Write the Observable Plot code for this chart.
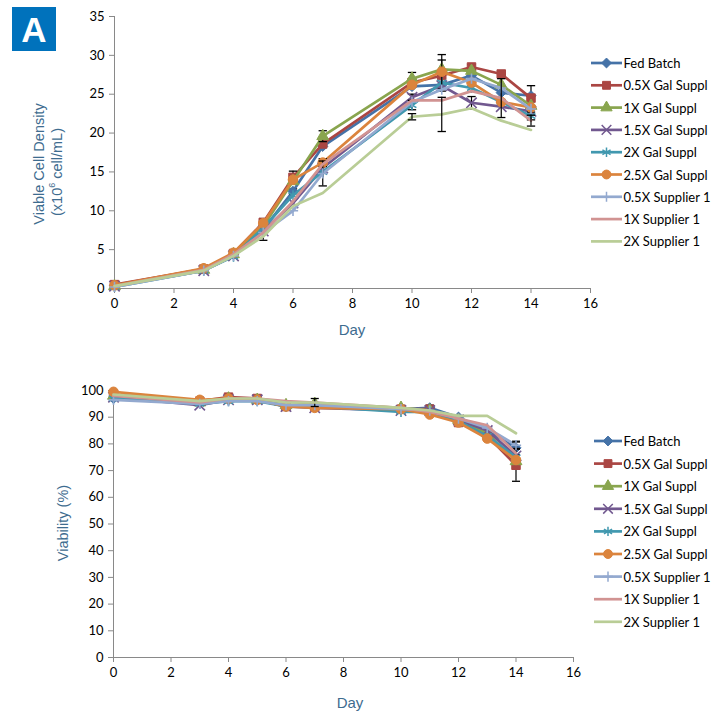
<!DOCTYPE html>
<html><head><meta charset="utf-8">
<script src="https://cdn.jsdelivr.net/npm/d3@7"></script>
<script src="https://cdn.jsdelivr.net/npm/@observablehq/plot@0.6"></script>
<style>
html,body{margin:0;padding:0;background:#fff;}
#wrap{position:relative;width:724px;height:711px;overflow:hidden;background:#fff;}
#wrap svg{position:absolute;left:0;}
</style></head><body><div id="wrap"></div>
<script>
// ---------- data ----------
const days = [0, 3, 4, 5, 6, 7, 10, 11, 12, 13, 14];
const seriesNames = ["Fed Batch", "0.5X Gal Suppl", "1X Gal Suppl", "1.5X Gal Suppl", "2X Gal Suppl",
  "2.5X Gal Suppl", "0.5X Supplier 1", "1X Supplier 1", "2X Supplier 1"];
const seriesColors = ["#4572A7", "#AA4643", "#89A54E", "#71588F", "#4198AF", "#DB843D", "#93A9CF", "#D19392", "#B9CD96"];
const seriesMarkers = ["diamond2", "square", "triangle", "times", "asterisk", "circle", "plus", null, null];

// Viable cell density (x10^6 cell/mL), one row per series, one value per day
const vcdValues = [
  [0.4, 2.5, 4.4, 7.6, 12.5, 18.3, 26.0, 26.2, 27.4, 25.2, 24.8],
  [0.5, 2.5, 4.5, 8.5, 14.3, 18.6, 26.5, 27.4, 28.5, 27.6, 24.5],
  [0.3, 2.4, 4.4, 8.0, 13.8, 19.6, 27.0, 28.2, 28.0, 26.2, 23.5],
  [0.3, 2.3, 4.2, 7.4, 11.0, 15.5, 24.6, 26.1, 23.9, 23.4, 22.8],
  [0.2, 2.3, 4.1, 7.8, 12.0, 15.0, 23.6, 26.5, 25.8, 24.0, 22.2],
  [0.4, 2.6, 4.6, 8.4, 14.0, 16.2, 26.2, 27.9, 26.5, 24.0, 23.3],
  [0.2, 2.3, 4.2, 7.2, 10.0, 14.8, 24.0, 25.6, 27.0, 25.8, 23.1],
  [0.3, 2.4, 4.4, 7.2, 11.2, 16.0, 24.2, 24.2, 25.4, 24.5, 21.6],
  [0.3, 2.3, 4.2, 6.7, 10.6, 12.3, 22.1, 22.4, 23.2, 21.6, 20.4]
];
// error bars: [series, day, ±error]
const vcdErrors = [
  ["Fed Batch", 5, 1.4], ["Fed Batch", 6, 0.3], ["Fed Batch", 14, 1.3],
  ["0.5X Gal Suppl", 6, 0.8], ["0.5X Gal Suppl", 12, 0.3], ["0.5X Gal Suppl", 11, 2.0],
  ["1X Gal Suppl", 7, 0.7], ["1X Gal Suppl", 10, 0.8],
  ["1.5X Gal Suppl", 10, 0.4], ["1.5X Gal Suppl", 12, 0.8],
  ["2X Gal Suppl", 10, 0.6], ["2X Gal Suppl", 14, 0.5],
  ["2.5X Gal Suppl", 7, 0.5], ["2.5X Gal Suppl", 11, 2.2],
  ["0.5X Supplier 1", 7, 1.6],
  ["1X Supplier 1", 13, 2.5], ["1X Supplier 1", 14, 0.7],
  ["2X Supplier 1", 10, 0.4], ["2X Supplier 1", 11, 2.2]
];

// Viability (%)
const viabilityValues = [
  [97.0, 95.5, 96.5, 96.5, 94.0, 94.0, 93.0, 93.5, 90.0, 85.0, 78.5],
  [98.5, 96.0, 97.5, 97.0, 94.0, 94.0, 93.0, 93.0, 88.0, 83.0, 72.0],
  [98.0, 95.5, 97.0, 96.5, 94.5, 95.0, 93.5, 92.5, 89.0, 84.0, 73.5],
  [97.5, 94.5, 96.5, 96.5, 94.0, 93.5, 92.5, 92.5, 89.0, 85.0, 75.5],
  [97.0, 95.0, 96.0, 96.0, 94.0, 94.0, 92.0, 92.0, 88.5, 83.0, 75.0],
  [99.5, 96.5, 97.0, 96.5, 94.0, 93.5, 93.0, 91.0, 88.0, 82.0, 74.0],
  [96.5, 95.0, 96.0, 96.0, 94.5, 94.5, 93.0, 92.5, 89.5, 86.0, 79.5],
  [98.0, 95.5, 97.0, 97.0, 96.0, 95.5, 93.5, 92.0, 89.5, 87.0, 76.5],
  [98.5, 96.0, 97.0, 97.0, 95.5, 95.5, 93.5, 92.5, 90.5, 90.5, 84.0]
];
const viabilityErrors = [
  ["Fed Batch", 14, 2.5], ["0.5X Gal Suppl", 14, 6.0], ["0.5X Supplier 1", 14, 1.2],
  ["1X Supplier 1", 7, 1.5], ["Fed Batch", 11, 1.0]
];

const xTicks = [0, 2, 4, 6, 8, 10, 12, 14, 16];
const vcdTicks = [0, 5, 10, 15, 20, 25, 30, 35];
const viabilityTicks = [0, 10, 20, 30, 40, 50, 60, 70, 80, 90, 100];

// ---------- helpers ----------
const axisGrey = "#898989";
const titleBlue = "#3E6C8F";
const tickFont = "Lato, 'Open Sans', sans-serif";

function toRows(values) {
  const out = [];
  seriesNames.forEach((s, i) => days.forEach((d, j) => out.push({series: s, day: d, v: values[i][j]})));
  return out;
}
function toErr(values, errs) {
  return errs.map(([s, d, e]) => {
    const v = values[seriesNames.indexOf(s)][days.indexOf(d)];
    return {series: s, day: d, lo: v - e, hi: v + e};
  });
}

function makeChart({values, errs, yDomain, yTicks, top, height, mt, mb, ml, mr}) {
  const rows = toRows(values);
  const err = toErr(values, errs);
  const marks = [
    Plot.ruleY([yDomain[0]], {stroke: axisGrey, strokeWidth: 1}),
    Plot.ruleX([0], {stroke: axisGrey, strokeWidth: 1}),
    Plot.axisX({ticks: xTicks, tickSize: 5, tickPadding: 5, stroke: axisGrey, fill: "#000", label: null, fontSize: 13, tickFormat: d => String(d)}),
    Plot.axisY({ticks: yTicks, tickSize: 5, tickPadding: 5, stroke: axisGrey, fill: "#000", label: null, fontSize: 13, tickFormat: d => String(d)})
  ];
  seriesNames.forEach((s, i) => {
    const color = seriesColors[i];
    const data = rows.filter(d => d.series === s);
    const e = err.filter(d => d.series === s);
    const caps = e.flatMap(d => [{day: d.day, y: d.lo}, {day: d.day, y: d.hi}]);
    marks.push(Plot.line(data, {x: "day", y: "v", stroke: color, strokeWidth: 2.7, strokeLinejoin: "round"}));
    marks.push(Plot.ruleX(e, {x: "day", y1: "lo", y2: "hi", stroke: "#000", strokeWidth: 1.2}));
    marks.push(Plot.link(caps, {x1: d => d.day - 0.14, x2: d => d.day + 0.14, y1: "y", y2: "y", stroke: "#000", strokeWidth: 1.3}));
    const m = seriesMarkers[i];
    if (m) {
      const filled = ["diamond2", "square", "triangle", "circle"].includes(m);
      const r = m === "plus" ? 3.4 : m === "triangle" ? 4.4 : m === "diamond2" ? 4.6 : 4.8;
      marks.push(Plot.dot(data, filled
        ? {x: "day", y: "v", symbol: m, r, fill: color, stroke: color, strokeWidth: 1}
        : {x: "day", y: "v", symbol: m, r, fill: "none", stroke: color, strokeWidth: 1.6}));
    }
  });
  const svg = Plot.plot({
    width: 724, height,
    marginTop: mt, marginBottom: mb, marginLeft: ml, marginRight: mr,
    x: {domain: [0, 16]},
    y: {domain: yDomain},
    style: {fontFamily: tickFont, fontSize: "13px", color: "#000", background: "transparent"},
    marks
  });
  svg.style.top = top + "px";
  return svg;
}

const wrap = document.getElementById("wrap");
wrap.appendChild(makeChart({values: vcdValues, errs: vcdErrors, yDomain: [0, 35], yTicks: vcdTicks,
  top: 0, height: 338, mt: 16, mb: 50, ml: 114, mr: 134}));
wrap.appendChild(makeChart({values: viabilityValues, errs: viabilityErrors, yDomain: [0, 100], yTicks: viabilityTicks,
  top: 374, height: 337, mt: 16, mb: 54, ml: 113, mr: 151}));

// ---------- overlay: badge, axis titles, legends ----------
const ov = d3.select(wrap).append("svg").attr("width", 724).attr("height", 711).style("top", "0px");
ov.append("rect").attr("x", 12).attr("y", 7).attr("width", 44).attr("height", 44).attr("fill", "#0072BC");
ov.append("text").attr("x", 34).attr("y", 42).attr("text-anchor", "middle")
  .attr("font-family", "'Liberation Sans', Arial, sans-serif").attr("font-weight", "bold").attr("font-size", 35)
  .attr("fill", "#fff").text("A");

const titleFont = "'Liberation Sans', Arial, sans-serif";
function vTitle(x, y, txt) {
  return ov.append("text").attr("transform", `translate(${x},${y}) rotate(-90)`).attr("text-anchor", "middle")
    .attr("dominant-baseline", "central").attr("font-family", titleFont).attr("font-size", 14.5).attr("fill", titleBlue).text(txt);
}
vTitle(38.5, 164, "Viable Cell Density");
const t2 = ov.append("text").attr("transform", `translate(56.5,172) rotate(-90)`).attr("text-anchor", "middle")
  .attr("dominant-baseline", "central").attr("font-family", titleFont).attr("font-size", 14.5).attr("fill", titleBlue);
t2.append("tspan").text("(x10");
t2.append("tspan").attr("font-size", 9).attr("dy", -5).text("6");
t2.append("tspan").attr("dy", 5).text(" cell/mL)");
vTitle(62.5, 523, "Viability (%)");

function hTitle(x, y, txt) {
  ov.append("text").attr("x", x).attr("y", y).attr("text-anchor", "middle").attr("font-family", titleFont)
    .attr("font-size", 15).attr("fill", titleBlue).text(txt);
}
hTitle(352, 335, "Day");
hTitle(350, 708, "Day");

function legend(x0, x1, y0, step) {
  seriesNames.forEach((s, i) => {
    const y = y0 + i * step;
    const g = ov.append("g");
    g.append("line").attr("x1", x0).attr("x2", x1).attr("y1", y).attr("y2", y)
      .attr("stroke", seriesColors[i]).attr("stroke-width", 2.7);
    const m = seriesMarkers[i];
    if (m) {
      const map = {diamond2: d3.symbolDiamond2, square: d3.symbolSquare, triangle: d3.symbolTriangle,
        times: d3.symbolTimes, asterisk: d3.symbolAsterisk, circle: d3.symbolCircle, plus: d3.symbolPlus};
      const filled = ["diamond2", "square", "triangle", "circle"].includes(m);
      const size = m === "plus" ? 35 : m === "triangle" ? 55 : 62;
      g.append("path").attr("d", d3.symbol(map[m], size)()).attr("transform", `translate(${(x0 + x1) / 2},${y})`)
        .attr("fill", filled ? seriesColors[i] : "none").attr("stroke", seriesColors[i]).attr("stroke-width", filled ? 1 : 1.5);
    }
    g.append("text").attr("x", x1 + 1.5).attr("y", y).attr("dominant-baseline", "central")
      .attr("font-family", tickFont).attr("font-size", 13).attr("fill", "#000").text(s);
  });
}
legend(591, 622, 63, 22.3);
legend(594, 622, 441, 22.6);
</script></body></html>
